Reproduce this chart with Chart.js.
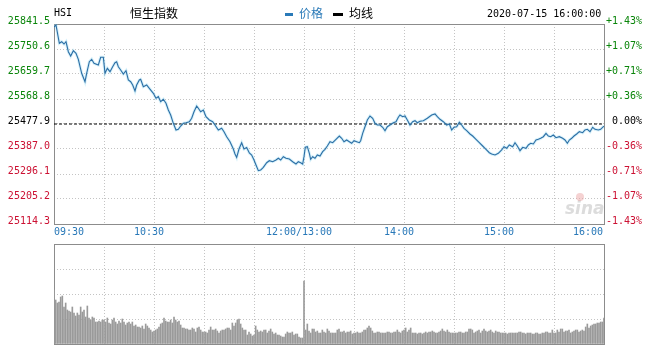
<!DOCTYPE html>
<html><head><meta charset="utf-8">
<script src="https://cdn.jsdelivr.net/npm/chart.js@4"></script>
<style>
html,body{margin:0;padding:0;background:#fff;overflow:hidden;width:651px;height:349px}
#c1{position:absolute;left:0;top:0}
#c2{position:absolute;left:0;top:240px}
</style></head>
<body>
<canvas id="c1" width="651" height="240"></canvas>
<canvas id="c2" width="651" height="109"></canvas>
<script>
const symbolName = 'HSI';
const titleText = '恒生指数';
const legendPrice = '价格';
const legendAvg = '均线';
const dateText = '2020-07-15 16:00:00';
const prevClose = 25477.9;
const priceTicks = [25841.5, 25750.6, 25659.7, 25568.8, 25477.9, 25387.0, 25296.1, 25205.2, 25114.3];
const pctLabels = ['+1.43%', '+1.07%', '+0.71%', '+0.36%', '0.00%', '-0.36%', '-0.71%', '-1.07%', '-1.43%'];
const gridMinutes = [0, 30, 60, 90, 120, 150, 180, 210, 240, 270, 300, 330];
const timeLabelMinutes = [0, 60, 150, 210, 270, 330];
const timeLabels = ['09:30', '10:30', '12:00/13:00', '14:00', '15:00', '16:00'];

const priceMinutes = [
0,1.2,3.2,4.6,6,7.2,8.6,10,11.6,13.2,
14.6,16.6,18.6,19.6,21.2,22.6,24,26.6,28,29.6,
30.6,32,33.6,35.2,36.6,37.6,38.6,40,41.6,43.2,
44.6,46,47.2,48.6,49.6,51.2,52,53.6,55.6,57.2,
59.6,61.2,62.6,64,65.6,67.2,68.6,70,71.6,73.2,
74.6,76,77.6,79.2,81.2,82.6,84,85.6,86.6,88,
89.6,91.2,93.2,95.2,96.6,98.6,100.6,102,103.6,105.6,
107.6,108.6,109.6,111,112.6,114,115.6,117.2,118.6,120,
121.2,122.6,124,125.6,127.6,129.2,131.2,133.2,134.6,136,
137.6,139.2,141.2,143.2,145.2,146.6,148,149.2,150,150.8,
152,153.2,154,155.2,156.6,158,159.6,161.2,162.6,164,
165.6,167.2,169.2,171.2,172.6,174,175.6,177.2,178.6,180,
181.6,183.2,184,185.2,186.6,188,189.6,191.2,192.6,194,
195.6,197.2,198.6,200,201.6,203.6,205.2,206.6,207.6,209.2,
210.6,212,213.6,215.2,216.6,218,219.6,221.6,224,226.6,
228.6,230,231.6,233.6,235.6,237.2,238.6,240,241.6,243.2,
244.6,246,247.6,249.6,251.2,253.2,255.2,257.2,259.2,261.2,
262.6,264.6,266.6,268.6,270,271.6,273.2,275.2,276.6,278,
279.6,281.2,283.2,284.6,286,287.6,289.2,290.6,292,293.6,
295.2,296.6,298,299.6,301.2,303.2,305.2,306.6,308,309.2,
310.6,312,313.6,315.2,317.2,318.6,320,321.6,323.2,324.6,
326.6,328,329.6,330];

const priceValues = [
25830.6,25837.9,25771.3,25777.1,25768.8,25777.1,25740.8,25725.1,25744.4,25735.0,
25713.1,25662.2,25631.7,25662.2,25704.4,25713.1,25698.6,25692.4,25720.4,25720.4,
25662.2,25680.4,25668.1,25686.2,25700.8,25704.4,25686.2,25674.2,25659.7,25671.7,
25637.9,25631.7,25619.7,25597.9,25619.7,25637.9,25640.4,25613.5,25619.7,25607.7,
25589.5,25571.3,25577.2,25559.0,25567.7,25553.2,25528.8,25510.6,25480.4,25456.1,
25458.6,25470.6,25480.4,25482.6,25486.3,25498.6,25522.6,25543.3,25535.0,25522.6,
25528.8,25504.4,25492.4,25486.3,25474.3,25456.1,25462.3,25449.9,25431.7,25413.5,
25387.0,25368.8,25356.1,25387.0,25409.9,25387.0,25392.5,25372.5,25365.2,25347.0,
25328.8,25308.1,25310.6,25320.5,25337.2,25344.5,25340.8,25347.0,25353.2,25347.0,
25359.0,25353.2,25350.6,25340.8,25332.5,25340.8,25337.2,25332.5,25359.0,25393.2,
25395.4,25371.4,25349.5,25359.0,25353.2,25365.2,25361.5,25377.2,25385.9,25397.9,
25413.5,25409.9,25422.3,25434.3,25425.9,25413.5,25419.7,25413.5,25407.7,25417.2,
25413.5,25409.9,25417.2,25444.1,25468.1,25492.4,25507.0,25498.6,25480.4,25474.3,
25474.3,25465.9,25453.5,25468.1,25474.3,25482.6,25486.3,25502.3,25510.6,25504.4,
25507.0,25492.4,25474.3,25486.3,25489.9,25482.6,25488.1,25489.9,25498.6,25510.6,
25514.3,25504.4,25495.0,25486.3,25474.3,25477.9,25456.1,25465.9,25468.1,25484.1,
25474.3,25462.3,25453.5,25441.5,25434.3,25422.3,25409.9,25397.9,25385.9,25373.5,
25368.8,25365.2,25371.4,25383.4,25395.4,25389.5,25401.5,25395.4,25409.9,25397.9,
25380.8,25393.2,25389.5,25401.5,25407.7,25405.2,25419.7,25422.3,25425.9,25431.7,
25444.1,25434.3,25431.7,25437.9,25428.1,25431.7,25425.9,25419.7,25407.7,25419.7,
25425.9,25434.3,25441.5,25449.9,25446.3,25456.1,25458.6,25449.9,25465.9,25458.6,
25456.1,25458.6,25468.1,25470.0];

const volumeValues = [
54,44,41,42,47,48,37,41,34,33,32,37,31,28,31,29,37,32,34,27,38,26,24,27,26,22,22,23,22,24,
24,22,26,21,20,24,26,22,20,23,21,25,22,19,21,22,20,22,18,19,17,17,16,18,15,20,18,16,14,12,
13,14,15,17,20,21,26,23,22,22,24,21,27,24,22,23,19,16,16,15,15,14,14,16,15,12,16,17,14,12,
12,12,11,14,17,14,14,15,13,11,13,14,14,15,16,16,14,21,18,21,24,25,20,16,14,14,9,12,10,8,
9,18,14,12,13,12,14,14,11,13,15,12,10,11,9,9,8,7,7,10,12,11,11,12,9,10,10,7,6,6,
63,
14,20,13,11,15,15,12,13,11,11,14,12,11,15,13,11,11,11,11,14,15,
12,12,13,11,12,12,13,10,11,11,
12,11,11,12,14,14,16,18,16,13,
11,11,12,12,11,11,11,11,12,12,
11,11,12,12,14,12,11,13,14,16,
12,14,16,11,11,11,10,11,11,10,
11,12,11,12,12,13,12,11,11,12,
13,15,13,12,14,12,11,11,11,11,
11,12,12,11,11,12,12,15,15,14,
11,12,13,14,11,13,15,13,12,13,
14,12,11,13,12,12,11,11,11,11,
10,11,11,11,11,11,11,12,12,11,
11,10,11,11,11,10,10,11,11,10,
10,11,11,12,12,11,11,14,11,11,
14,12,15,15,12,13,13,14,11,12,
13,14,14,12,13,14,13,17,20,16,
18,19,20,20,21,21,22,22,26];

const MONO = '"DejaVu Sans Mono", "Liberation Mono", monospace';
const CJK = '"Noto Sans CJK SC", "Noto Sans", sans-serif';
const GREEN = '#0a850a', RED = '#cc1133', BLACK = '#000000';
const GRID = '#c4c4c4';
const LINE = '#2c6ea5';

Chart.defaults.font.family = MONO;
Chart.defaults.font.size = 10;
Chart.defaults.animation = false;

const pricePoints = priceMinutes.map((m, i) => ({x: m, y: priceValues[i]}));
const pctTickValues = priceTicks.map(p => (p - prevClose) / prevClose * 100);
const pMin = Math.min(...priceTicks), pMax = Math.max(...priceTicks);

const framePlugin = {
  id: 'frame',
  beforeDatasetsDraw(chart) {
    const a = chart.chartArea, ctx = chart.ctx;
    ctx.save();
    ctx.strokeStyle = '#8c8c8c';
    ctx.lineWidth = 1;
    ctx.strokeRect(a.left + 0.5, a.top + 0.5, a.right - a.left, a.bottom - a.top);
    ctx.restore();
  }
};

const decorPlugin = {
  id: 'decor',
  afterDraw(chart) {
    const ctx = chart.ctx, xs = chart.scales.x;
    ctx.save();
    // watermark
    ctx.fillStyle = 'rgba(205,205,205,0.7)';
    ctx.font = 'italic bold 17px "DejaVu Sans", sans-serif';
    ctx.textBaseline = 'alphabetic';
    ctx.textAlign = 'left';
    ctx.fillText('sina', 565, 214);
    ctx.fillStyle = 'rgba(235,165,165,0.5)';
    ctx.beginPath(); ctx.arc(580, 197, 4, 0, Math.PI * 2); ctx.fill();
    // header
    ctx.textBaseline = 'middle';
    ctx.fillStyle = '#000';
    ctx.font = '10px ' + MONO;
    ctx.fillText(symbolName, 54, 13);
    ctx.font = '12px ' + CJK;
    ctx.fillText(titleText, 130, 13);
    ctx.fillStyle = '#2a7ab8';
    ctx.fillRect(285, 13, 8, 3);
    ctx.font = '12px ' + CJK;
    ctx.fillText(legendPrice, 299, 13);
    ctx.fillStyle = '#000';
    ctx.fillRect(333, 13, 10, 3);
    ctx.fillText(legendAvg, 349, 13);
    ctx.font = '10px ' + MONO;
    ctx.fillText(dateText, 487, 14);
    // time labels
    ctx.fillStyle = '#2878b8';
    ctx.font = '10px ' + MONO;
    timeLabelMinutes.forEach((m, i) => {
      const px = xs.getPixelForValue(m);
      if (i === 0) { ctx.textAlign = 'left'; ctx.fillText(timeLabels[i], px, 232); }
      else if (i === timeLabelMinutes.length - 1) { ctx.textAlign = 'right'; ctx.fillText(timeLabels[i], px - 1, 232); }
      else { ctx.textAlign = 'center'; ctx.fillText(timeLabels[i], px - 5, 232); }
    });
    ctx.restore();
  }
};

function sideColor(v, ref) {
  if (v > ref + 1e-6) return GREEN;
  if (v < ref - 1e-6) return RED;
  return BLACK;
}

new Chart(document.getElementById('c1'), {
  type: 'line',
  data: {
    datasets: [
      {data: pricePoints, borderColor: LINE, borderWidth: 1.1, pointRadius: 0, tension: 0, order: 0},
      {data: pricePoints, borderColor: 'rgba(140,215,240,0.35)', borderWidth: 3, pointRadius: 0, tension: 0, order: 1},
      {data: [{x: 0, y: prevClose}, {x: 330, y: prevClose}], borderColor: '#000', borderWidth: 1, borderDash: [3, 2], pointRadius: 0, order: 2}
    ]
  },
  options: {
    responsive: false,
    devicePixelRatio: 1,
    layout: {padding: {top: 24, right: 9, left: 0, bottom: 0}},
    plugins: {legend: {display: false}, tooltip: {enabled: false}},
    scales: {
      x: {
        type: 'linear', min: 0, max: 330,
        afterBuildTicks: s => { s.ticks = gridMinutes.map(v => ({value: v})); },
        ticks: {display: false},
        grid: {color: GRID, drawTicks: false},
        border: {display: false, dash: [1, 2]},
        afterFit: s => { s.height = 16; }
      },
      y: {
        type: 'linear', position: 'left', min: pMin, max: pMax,
        afterBuildTicks: s => { s.ticks = priceTicks.map(v => ({value: v})); },
        ticks: {
          padding: 4, labelOffset: -3,
          color: c => sideColor(c.tick.value, prevClose),
          callback: v => Number(v).toFixed(1)
        },
        grid: {color: GRID, drawTicks: false},
        border: {display: false, dash: [1, 2]},
        afterFit: s => { s.width = 54; }
      },
      y2: {
        type: 'linear', position: 'right',
        min: (pMin - prevClose) / prevClose * 100, max: (pMax - prevClose) / prevClose * 100,
        afterBuildTicks: s => { s.ticks = pctTickValues.map(v => ({value: v})); },
        ticks: {
          padding: 4, labelOffset: -3, crossAlign: 'far',
          color: c => sideColor(c.tick.value, 0),
          callback: v => {
            const i = pctTickValues.findIndex(p => Math.abs(p - v) < 0.01);
            return i >= 0 ? pctLabels[i] : '';
          }
        },
        grid: {display: false, drawTicks: false},
        border: {display: false},
        afterFit: s => { s.width = 38; }
      }
    }
  },
  plugins: [framePlugin, decorPlugin]
});

new Chart(document.getElementById('c2'), {
  type: 'bar',
  data: {
    datasets: [{
      data: volumeValues.map((v, i) => ({x: i, y: v})),
      backgroundColor: '#9a9a9a',
      barThickness: 1,
      borderWidth: 0
    }]
  },
  options: {
    responsive: false,
    devicePixelRatio: 1,
    layout: {padding: {top: 4, right: 47, left: 0, bottom: 0}},
    plugins: {legend: {display: false}, tooltip: {enabled: false}},
    scales: {
      x: {
        type: 'linear', min: 0, max: 330, offset: false,
        afterBuildTicks: s => { s.ticks = gridMinutes.map(v => ({value: v})); },
        ticks: {display: false},
        grid: {color: GRID, drawTicks: false, offset: false},
        border: {display: false, dash: [1, 2]},
        afterFit: s => { s.height = 5; }
      },
      y: {
        type: 'linear', min: 0, max: 100,
        afterBuildTicks: s => { s.ticks = [0, 25, 50, 75, 100].map(v => ({value: v})); },
        ticks: {display: false},
        grid: {color: GRID, drawTicks: false},
        border: {display: false, dash: [1, 2]},
        afterFit: s => { s.width = 54; }
      }
    }
  },
  plugins: [framePlugin]
});
</script>
</body></html>
